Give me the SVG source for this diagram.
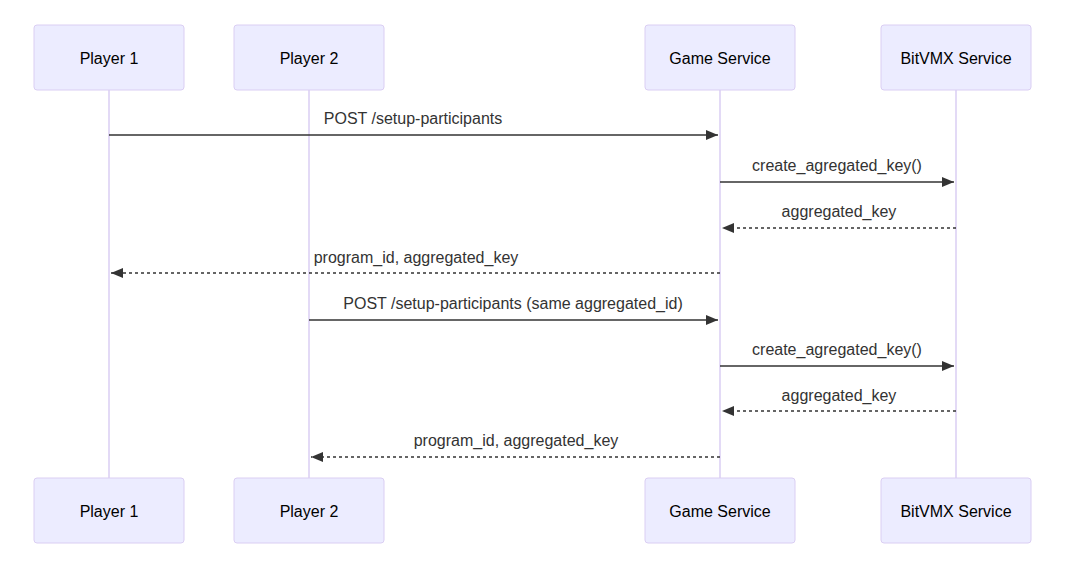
<svg xmlns="http://www.w3.org/2000/svg" width="1070" height="572" viewBox="0 0 1070 572">
<style>
.actor{fill:#ECECFF;stroke:#DACEF3;stroke-width:1}
.atext{font-family:"Liberation Sans",Arial,sans-serif;font-size:16px;fill:#000;text-anchor:middle;dominant-baseline:central}
.life{stroke:#DACEF3;stroke-width:1.5}
.msg{stroke:#333;stroke-width:1.5;fill:none}
.dash{stroke-dasharray:3,3}
.mtext{font-family:"Liberation Sans",Arial,sans-serif;font-size:16px;fill:#333;text-anchor:middle}
</style>
<defs>
<marker id="ah" viewBox="0 0 12 10" refX="12" refY="5" markerWidth="12" markerHeight="10" markerUnits="userSpaceOnUse" orient="auto">
<path d="M0,0 L12,5 L0,10 z" fill="#333"/>
</marker>
</defs>
<rect width="1070" height="572" fill="#fff"/>
<g id="lifelines">
<line class="life" x1="109" y1="90" x2="109" y2="478"/>
<line class="life" x1="309" y1="90" x2="309" y2="478"/>
<line class="life" x1="720" y1="90" x2="720" y2="478"/>
<line class="life" x1="956" y1="90" x2="956" y2="478"/>
</g>
<g id="player1">
<rect class="actor" x="34" y="25" width="150" height="65" rx="3"/>
<text class="atext" x="109" y="58">Player 1</text>
<rect class="actor" x="34" y="478" width="150" height="65" rx="3"/>
<text class="atext" x="109" y="511">Player 1</text>
</g>
<g id="player2">
<rect class="actor" x="234" y="25" width="150" height="65" rx="3"/>
<text class="atext" x="309" y="58">Player 2</text>
<rect class="actor" x="234" y="478" width="150" height="65" rx="3"/>
<text class="atext" x="309" y="511">Player 2</text>
</g>
<g id="game">
<rect class="actor" x="645" y="25" width="150" height="65" rx="3"/>
<text class="atext" x="720" y="58">Game Service</text>
<rect class="actor" x="645" y="478" width="150" height="65" rx="3"/>
<text class="atext" x="720" y="511">Game Service</text>
</g>
<g id="bitvmx">
<rect class="actor" x="881" y="25" width="150" height="65" rx="3"/>
<text class="atext" x="956" y="58">BitVMX Service</text>
<rect class="actor" x="881" y="478" width="150" height="65" rx="3"/>
<text class="atext" x="956" y="511">BitVMX Service</text>
</g>
<g id="connectors">
<line class="msg" x1="109" y1="135" x2="718" y2="135" marker-end="url(#ah)"/>
<text class="mtext" x="413" y="124">POST /setup-participants</text>
<line class="msg" x1="720" y1="182" x2="954" y2="182" marker-end="url(#ah)"/>
<text class="mtext" x="837" y="171">create_agregated_key()</text>
<line class="msg dash" x1="956" y1="228" x2="722" y2="228" marker-end="url(#ah)"/>
<text class="mtext" x="839" y="217">aggregated_key</text>
<line class="msg dash" x1="720" y1="273" x2="111" y2="273" marker-end="url(#ah)"/>
<text class="mtext" x="416" y="263">program_id, aggregated_key</text>
<line class="msg" x1="309" y1="320" x2="718" y2="320" marker-end="url(#ah)"/>
<text class="mtext" x="513" y="309">POST /setup-participants (same aggregated_id)</text>
<line class="msg" x1="720" y1="366" x2="954" y2="366" marker-end="url(#ah)"/>
<text class="mtext" x="837" y="355">create_agregated_key()</text>
<line class="msg dash" x1="956" y1="411" x2="722" y2="411" marker-end="url(#ah)"/>
<text class="mtext" x="839" y="401">aggregated_key</text>
<line class="msg dash" x1="720" y1="457" x2="311" y2="457" marker-end="url(#ah)"/>
<text class="mtext" x="516" y="446">program_id, aggregated_key</text>
</g>
</svg>
